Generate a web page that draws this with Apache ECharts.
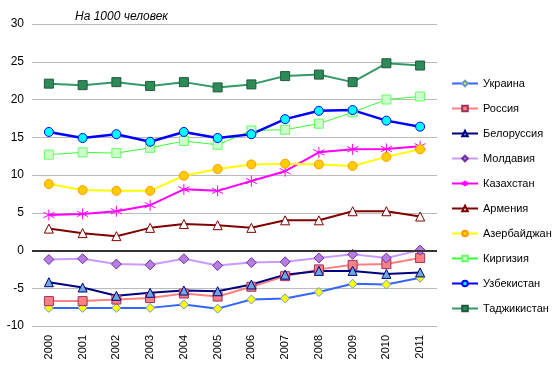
<!DOCTYPE html>
<html>
<head>
  <meta charset="UTF-8">
  <title>Прирост населения</title>
  <script src="https://cdn.jsdelivr.net/npm/echarts@6/dist/echarts.min.js"></script>
  <style>
    html, body { margin: 0; padding: 0; background: #fff; }
    #main { width: 554px; height: 377px; }
  </style>
</head>
<body>
  <div id="main"></div>
<script type="text/javascript">
  // годы
  var years = ['2000', '2001', '2002', '2003', '2004', '2005', '2006', '2007', '2008', '2009', '2010', '2011'];
  var yTicks = [-10, -5, 0, 5, 10, 15, 20, 25, 30];

  // значения на 1000 человек
  var ukraina = [-7.6, -7.6, -7.6, -7.6, -7.15, -7.7, -6.5, -6.35, -5.5, -4.4, -4.5, -3.6];
  var rossiya = [-6.7, -6.7, -6.5, -6.3, -5.7, -6.1, -4.8, -3.4, -2.5, -1.9, -1.8, -1.0];
  var belorussiya = [-4.2, -4.9, -6.0, -5.6, -5.3, -5.4, -4.5, -3.2, -2.7, -2.7, -3.1, -2.9];
  var moldaviya = [-1.2, -1.1, -1.8, -1.9, -1.1, -2.0, -1.6, -1.5, -1.0, -0.5, -1.0, 0.05];
  var kazahstan = [4.7, 4.85, 5.2, 6.0, 8.1, 7.9, 9.2, 10.5, 13.0, 13.4, 13.45, 13.8];
  var armeniya = [2.9, 2.3, 1.9, 3.0, 3.5, 3.35, 3.0, 4.0, 4.0, 5.2, 5.2, 4.5];
  var azerbaydzhan = [8.8, 8.0, 7.9, 7.9, 9.9, 10.8, 11.4, 11.5, 11.4, 11.2, 12.4, 13.4];
  var kirgiziya = [12.7, 13.0, 12.9, 13.6, 14.5, 14.0, 15.9, 16.0, 16.8, 18.3, 20.0, 20.4];
  var uzbekistan = [15.7, 14.9, 15.4, 14.4, 15.7, 14.9, 15.4, 17.4, 18.5, 18.6, 17.2, 16.4];
  var tadzhikistan = [22.1, 21.9, 22.3, 21.8, 22.3, 21.6, 22.0, 23.1, 23.3, 22.3, 24.8, 24.5];

  var star = 'path://M5,0L5,10M0.8,2.5L9.2,7.5M9.2,2.5L0.8,7.5';

  function mkSeries(name, data, line, lw, symbol, size, fill, border) {
    return {
      name: name,
      type: 'line',
      data: data,
      symbol: symbol,
      symbolSize: size,
      showAllSymbol: true,
      lineStyle: { color: line, width: lw },
      itemStyle: { color: fill, borderColor: border, borderWidth: 1 },
      emphasis: { disabled: true }
    };
  }

  var series = [
    mkSeries('Украина', ukraina, '#3366ff', 2, 'diamond', 9, '#ffff00', '#6699cc'),
    mkSeries('Россия', rossiya, '#ff8080', 2, 'rect', 9, '#ff8080', '#993366'),
    mkSeries('Белоруссия', belorussiya, '#000080', 2, 'triangle', 9, '#6fa8dc', '#000080'),
    mkSeries('Молдавия', moldaviya, '#cc99ff', 2, 'diamond', 10, '#b57ee0', '#7030a0'),
    mkSeries('Казахстан', kazahstan, '#ff00ff', 2, star, 11, '#ff00ff', '#ff00ff'),
    mkSeries('Армения', armeniya, '#800000', 2, 'triangle', 9, '#ffffff', '#800000'),
    mkSeries('Азербайджан', azerbaydzhan, '#ffff00', 2, 'circle', 9, '#ffcc00', '#ff9900'),
    mkSeries('Киргизия', kirgiziya, '#33ff33', 1, 'rect', 9, '#ccffcc', '#66ff66'),
    mkSeries('Узбекистан', uzbekistan, '#0000ff', 2.5, 'circle', 9, '#00ffff', '#0000ff'),
    mkSeries('Таджикистан', tadzhikistan, '#339966', 2, 'rect', 9, '#2e8b57', '#1e5a3c')
  ];
  // линия нуля
  series[0].markLine = {
    silent: true,
    symbol: 'none',
    label: { show: false },
    lineStyle: { color: '#333333', width: 2, type: 'solid' },
    data: [{ yAxis: 0 }]
  };

  var myChart = echarts.init(document.getElementById('main'));
  var option = {
    animation: false,
    title: {
      text: 'На 1000 человек',
      left: 70,
      top: 6,
      textStyle: { fontFamily: 'Liberation Sans', fontSize: 12, fontStyle: 'italic', fontWeight: 'normal', color: '#000' }
    },
    legend: {
      orient: 'vertical',
      left: 446,
      top: 73,
      itemGap: 14,
      itemWidth: 26,
      itemHeight: 7,
      textStyle: { fontFamily: 'Liberation Sans', fontSize: 11, color: '#000' },
      data: series.map(function (s) { return s.name; })
    },
    grid: { left: 32, right: 117, top: 24, bottom: 51 },
    xAxis: {
      type: 'category',
      data: years,
      boundaryGap: true,
      axisLine: { show: false },
      axisTick: { show: false },
      axisLabel: { rotate: 90, fontFamily: 'Liberation Sans', fontSize: 11, color: '#000', margin: 9 }
    },
    yAxis: {
      type: 'value',
      min: yTicks[0],
      max: yTicks[yTicks.length - 1],
      interval: 5,
      axisLine: { show: false },
      axisTick: { show: false },
      splitLine: { lineStyle: { color: '#bbbbbb', width: 1 } },
      axisLabel: { fontFamily: 'Liberation Sans', fontSize: 12, color: '#000', margin: 8 }
    },
    series: series
  };
  myChart.setOption(option);
</script>
</body>
</html>
